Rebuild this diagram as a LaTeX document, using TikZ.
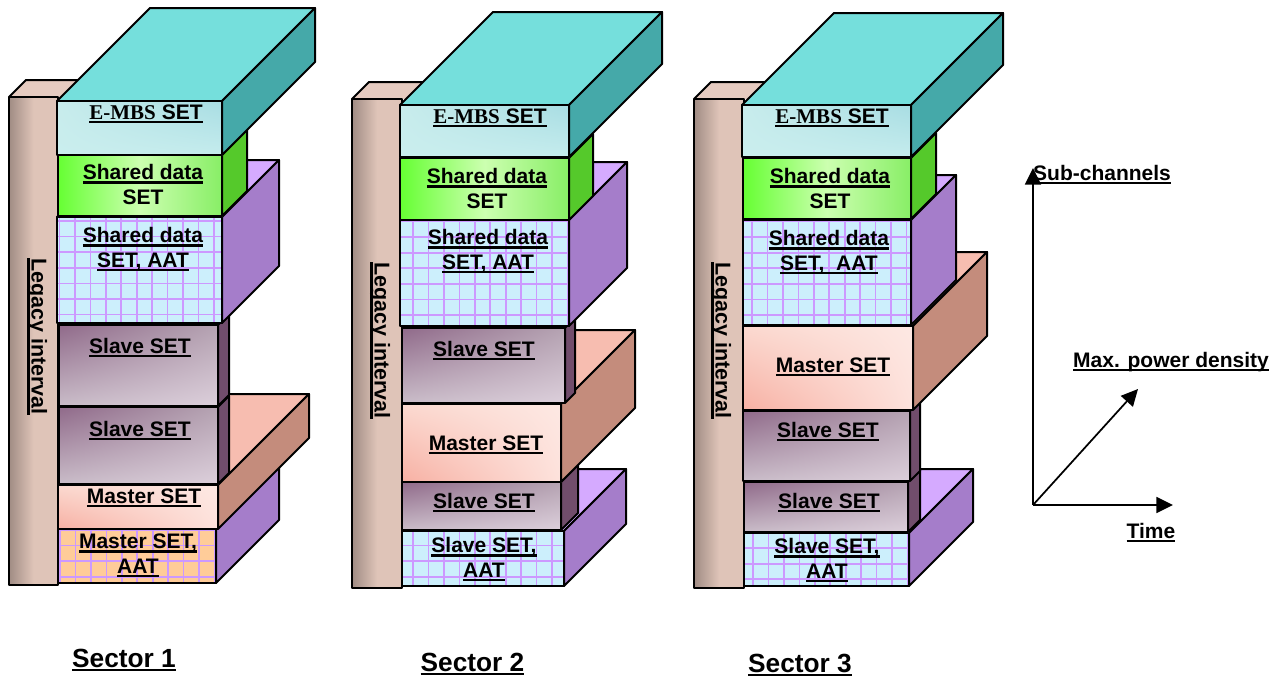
\documentclass[tikz,border=0pt]{standalone}
\usepackage{fontspec}
\setmainfont{Liberation Sans}
\newfontfamily\timesbf{Liberation Serif}
\usetikzlibrary{arrows.meta,shadings}
\definecolor{tealtop}{HTML}{75DFDC}
\definecolor{tealside}{HTML}{45A9A9}
\definecolor{greenside}{HTML}{55C92B}
\definecolor{lilactop}{HTML}{D5AAFF}
\definecolor{lilacside}{HTML}{A57DCA}
\definecolor{plumside}{HTML}{714D6C}
\definecolor{salmontop}{HTML}{F7BDB0}
\definecolor{salmonside}{HTML}{C48C7C}
\definecolor{legacytop}{HTML}{E6CBC0}
\definecolor{gridline}{HTML}{CC99FF}
\definecolor{gL}{HTML}{66FF33}
\definecolor{gM}{HTML}{CCFFB0}
\definecolor{gR}{HTML}{88EE66}
\definecolor{eUL}{HTML}{C8ECEC}
\definecolor{eUR}{HTML}{A8DDE3}
\definecolor{eLL}{HTML}{CAEEEE}
\definecolor{eLR}{HTML}{C5ECED}
\definecolor{sUL}{HTML}{906A8A}
\definecolor{sUR}{HTML}{B5A3B2}
\definecolor{sLL}{HTML}{C9BCC8}
\definecolor{sLR}{HTML}{DCCFDB}
\definecolor{mUL}{HTML}{FBD9D0}
\definecolor{mUR}{HTML}{FDE8E3}
\definecolor{mLL}{HTML}{F7B0A3}
\definecolor{mLR}{HTML}{FDE2DC}
\definecolor{lgL}{HTML}{A08C84}
\definecolor{lgM}{HTML}{DFC4B8}
\newcommand\myul[1]{\setbox0\hbox{#1}\leavevmode\rlap{\rule[-3.3pt]{\wd0}{1.9pt}}\box0 }
\tikzset{
  x=0.75pt,y=-0.75pt,
  outline/.style={draw=black,line width=1.5pt,line join=round},
  embsfront/.style={shade,upper left=eUL,upper right=eUR,lower left=eLL,lower right=eLR},
  greenfront/.style={shade,left color=gL,right color=gR,middle color=gM},
  slavefront/.style={shade,upper left=sUL,upper right=sUR,lower left=sLL,lower right=sLR},
  masterfront/.style={shade,upper left=mUL,upper right=mUR,lower left=mLL,lower right=mLR},
  legacyfront/.style={shade,left color=lgL,right color=lgM,middle color=lgM},
  aatblue/.style={fill=cyan!20!white},
  aatorange/.style={fill=orange!40!white},
  lab/.style={font=\fontsize{15.75}{18.4}\selectfont\bfseries,align=center,anchor=base,inner sep=0pt,text=black},
  leglab/.style={font=\fontsize{16.1}{18}\selectfont\bfseries,anchor=base,inner sep=0pt,rotate=-90},
  seclab/.style={font=\fontsize{19.7}{23}\selectfont\bfseries,anchor=base,inner sep=0pt},
  axisline/.style={draw=black,line width=1.3pt,-{Triangle[length=12.5pt,width=12pt]}}
}
% x0, x1, ytop, ybottom, depth, front style, top colour, side colour, extra on front
\newcommand\slab[9]{%
  \path[fill=#7,outline] (#1,#3) -- ({#1+#5},{#3-#5}) -- ({#2+#5},{#3-#5}) -- (#2,#3) -- cycle;
  \path[fill=#8,outline] (#2,#3) -- ({#2+#5},{#3-#5}) -- ({#2+#5},{#4-#5}) -- (#2,#4) -- cycle;
  \path[#6] (#1,#3) rectangle (#2,#4);
  #9
  \path[outline] (#1,#3) rectangle (#2,#4);
}
% x0, x1, ytop, ybottom: the pillar, whose top runs in under the E-MBS block
\newcommand\pillar[4]{%
  \fill[legacytop] (#1,#3) -- ({#1+17},{#3-17}) -- ({#2+24},{#3-17}) -- ({#2+7},#3) -- cycle;
  \path[outline] (#1,#3) -- ({#1+17},{#3-17}) -- ({#2+24},{#3-17});
  \path[legacyfront] (#1,#3) rectangle (#2,#4);
  \path[outline] (#1,#3) rectangle (#2,#4);
}
% x0, x1, ytop, ybottom, first vertical, first horizontal
\newcommand\griddy[6]{%
  \begin{scope}
    \clip (#1,#3) rectangle (#2,#4);
    \foreach \k in {0,...,11} {
      \draw[gridline,line width=1.25pt] ({#5+15.45*\k},#3) -- ({#5+15.45*\k},#4);
      \draw[gridline,line width=1.25pt] (#1,{#6+15.6*\k}) -- (#2,{#6+15.6*\k});
    }
  \end{scope}%
}
\begin{document}
\begin{tikzpicture}
\useasboundingbox (0,0) rectangle (1288,679);
% ---------- Sector 1
\pillar{9}{58}{97}{585}
\slab{58}{216}{529}{583}{63}{aatorange}{lilactop}{lilacside}{\griddy{58}{216}{529}{583}{60}{530}}
\slab{58}{218}{485}{529}{91}{masterfront}{salmontop}{salmonside}{}
\slab{59}{218}{407}{484}{11}{slavefront}{plumside}{plumside}{}
\slab{59}{218}{325}{406}{11}{slavefront}{plumside}{plumside}{}
\slab{57}{222}{217}{323}{57}{aatblue}{lilactop}{lilacside}{\griddy{57}{222}{217}{323}{59.5}{221}}
\slab{58}{222}{155}{216}{25}{greenfront}{greenside}{greenside}{}
\slab{57}{222}{101}{155}{93}{embsfront}{tealtop}{tealside}{}
% ---------- Sector 2
\pillar{352}{402}{99}{588}
\slab{402}{564}{531}{586}{62}{aatblue}{lilactop}{lilacside}{\griddy{402}{564}{531}{586}{413}{530}}
\slab{402}{561}{482}{530}{17}{slavefront}{plumside}{plumside}{}
\slab{402}{561}{404}{482}{74}{masterfront}{salmontop}{salmonside}{}
\slab{402}{565}{328}{403}{10}{slavefront}{plumside}{plumside}{}
\slab{400}{569}{220}{326}{58}{aatblue}{lilactop}{lilacside}{\griddy{400}{569}{220}{326}{413}{221.5}}
\slab{400}{569}{158}{220}{24}{greenfront}{greenside}{greenside}{}
\slab{400}{569}{105}{157}{93}{embsfront}{tealtop}{tealside}{}
% ---------- Sector 3
\pillar{694}{744}{99}{588}
\slab{744}{909}{533}{586}{64}{aatblue}{lilactop}{lilacside}{\griddy{744}{909}{533}{586}{753}{532.5}}
\slab{744}{908}{482}{532}{12}{slavefront}{plumside}{plumside}{}
\slab{743}{910}{411}{481}{10}{slavefront}{plumside}{plumside}{}
\slab{743}{913}{326}{410}{74}{masterfront}{salmontop}{salmonside}{}
\slab{743}{911}{220}{325}{45}{aatblue}{lilactop}{lilacside}{\griddy{743}{911}{220}{325}{752}{221.5}}
\slab{743}{911}{158}{219}{25}{greenfront}{greenside}{greenside}{}
\slab{742}{911}{105}{157}{92}{embsfront}{tealtop}{tealside}{}
% ---------- labels sector 1
\node[leglab] (leg1) at (31.5,336.5) {\myul{Legacy interval}};
\node[lab] (emb1) at (146,119) {\myul{{\timesbf E-MBS} SET}};
\node[lab] (sh1) at (143,204) {\myul{Shared data}\\SET};
\node[lab] (sa1) at (143,267) {\myul{Shared data}\\\myul{SET, AAT}};
\node[lab] (sl1a) at (140,353) {\myul{Slave SET}};
\node[lab] (sl1b) at (140,436) {\myul{Slave SET}};
\node[lab] (ma1) at (144,503) {\myul{Master SET}};
\node[lab] (maa1) at (138,573) {\myul{Master SET,}\\\myul{AAT}};
\node[seclab] (sec1) at (124,667) {\myul{Sector 1}};
% ---------- labels sector 2
\node[leglab] (leg2) at (374.5,340.5) {\myul{Legacy interval}};
\node[lab] (emb2) at (490,123) {\myul{{\timesbf E-MBS} SET}};
\node[lab] (sh2) at (487,208) {\myul{Shared data}\\SET};
\node[lab] (sa2) at (488,269) {\myul{Shared data}\\\myul{SET, AAT}};
\node[lab] (sl2a) at (484,356) {\myul{Slave SET}};
\node[lab] (ma2) at (486,450) {\myul{Master SET}};
\node[lab] (sl2b) at (484,508) {\myul{Slave SET}};
\node[lab] (saa2) at (484,577) {\myul{Slave SET,}\\\myul{AAT}};
\node[seclab] (sec2) at (472.5,671) {\myul{Sector 2}};
% ---------- labels sector 3
\node[leglab] (leg3) at (715.5,340.5) {\myul{Legacy interval}};
\node[lab] (emb3) at (832,123) {\myul{{\timesbf E-MBS} SET}};
\node[lab] (sh3) at (830,208) {\myul{Shared data}\\SET};
\node[lab] (sa3) at (829,270) {\myul{Shared data}\\\myul{SET,~~AAT}};
\node[lab] (ma3) at (833,372) {\myul{Master SET}};
\node[lab] (sl3a) at (828,437) {\myul{Slave SET}};
\node[lab] (sl3b) at (829,508) {\myul{Slave SET}};
\node[lab] (saa3) at (827,578) {\myul{Slave SET,}\\\myul{AAT}};
\node[seclab] (sec3) at (800,672) {\myul{Sector 3}};
% ---------- axes
\coordinate (origin) at (1033,505);
\coordinate (up) at (1033,168);
\coordinate (diag) at (1138,389);
\coordinate (right) at (1173,505);
\draw[axisline] (origin) -- (up);
\draw[axisline] (origin) -- (diag);
\draw[axisline] (origin) -- (right);
\node[lab] (sub) at (1102,180) {\myul{Sub-channels}};
\node[lab] (maxp) at (1171,367) {\myul{Max. power density}};
\node[lab] (time) at (1151,538) {\myul{Time}};
\end{tikzpicture}
\end{document}
